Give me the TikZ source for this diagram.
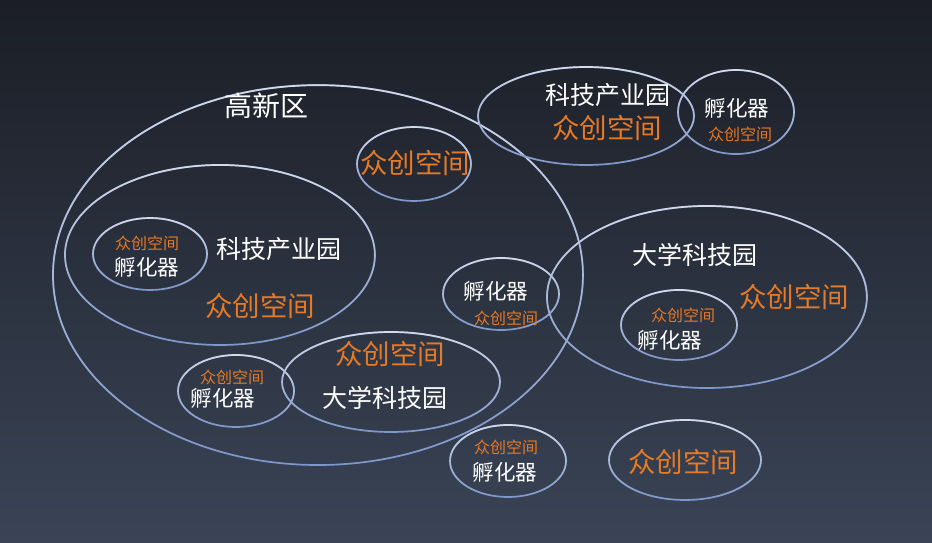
\documentclass[tikz,border=0pt]{standalone}
\usepackage{fontspec}
\setmainfont{Noto Sans CJK SC}
\usetikzlibrary{fadings}
\definecolor{bgtop}{HTML}{1B1E26}
\definecolor{bgbot}{HTML}{3A4456}
\definecolor{ringc}{HTML}{D4DAE8}
\definecolor{ringb}{HTML}{6F8AC4}
\definecolor{orng}{HTML}{E67A26}
\tikzfading[name=ringfade, top color=transparent!0, bottom color=transparent!85]
\tikzset{
  ringlo/.style={draw=ringb, line width=1.7pt},
  ringhi/.style={draw=ringc, line width=1.7pt, path fading=ringfade},
  wt/.style={text=white, inner sep=0pt},
  og/.style={text=orng, inner sep=0pt},
  big/.style={font=\fontsize{27.5}{27.5}\selectfont},
  mid/.style={font=\fontsize{25}{25}\selectfont},
  sm/.style={font=\fontsize{21.5}{21.5}\selectfont},
  xs/.style={font=\fontsize{16}{16}\selectfont},
}
\newcommand\myring[4]{%
  \draw[ringlo] (#1,#2) ellipse [x radius=#3pt, y radius=#4pt];
  \draw[ringhi] (#1,#2) ellipse [x radius=#3pt, y radius=#4pt];}
\begin{document}
\begin{tikzpicture}[x=1pt,y=-1pt]
\useasboundingbox (0,0) rectangle (932,543);
\shade[top color=bgtop, bottom color=bgbot] (0,0) rectangle (932,543);
% ellipses
\myring{318}{275}{265}{190}
\myring{586}{116}{108}{49}
\myring{736}{112}{58}{42}
\myring{414}{164}{57}{37}
\myring{220}{255}{155}{90}
\myring{150}{254}{57}{36}
\myring{501}{294}{58}{36}
\myring{707}{297}{160}{91}
\myring{679}{325}{58}{35}
\myring{236}{391}{58}{36}
\myring{391}{382}{109}{50}
\myring{508}{461}{58}{36}
\myring{685}{460}{76}{40}
% texts
\node[wt,font=\fontsize{28}{28}\selectfont] (gx) at (266,106) {高新区};
\node[wt,mid] (kj1) at (608,95) {科技产业园};
\node[og,big] (zc1) at (607,128) {众创空间};
\node[wt,sm] (fh1) at (737,108) {孵化器};
\node[og,xs] (zc2) at (740,134) {众创空间};
\node[og,big] (zc3) at (415,163) {众创空间};
\node[og,xs] (zc4) at (147,243) {众创空间};
\node[wt,sm] (fh2) at (147,267) {孵化器};
\node[wt,mid] (kj2) at (279,249) {科技产业园};
\node[og,big] (zc5) at (260,306) {众创空间};
\node[wt,sm] (fh3) at (496,291) {孵化器};
\node[og,xs] (zc6) at (506,318) {众创空间};
\node[wt,mid] (dx1) at (695,255) {大学科技园};
\node[og,big] (zc7) at (794,297) {众创空间};
\node[og,xs] (zc8) at (683,315) {众创空间};
\node[wt,sm] (fh4) at (670,340) {孵化器};
\node[og,big] (zc9) at (390,354) {众创空间};
\node[wt,mid] (dx2) at (385,398) {大学科技园};
\node[og,xs] (zc10) at (232,377) {众创空间};
\node[wt,sm] (fh5) at (223,398) {孵化器};
\node[og,xs] (zc11) at (506,447) {众创空间};
\node[wt,sm] (fh6) at (505,472) {孵化器};
\node[og,big] (zc12) at (683,462) {众创空间};
\end{tikzpicture}
\end{document}
